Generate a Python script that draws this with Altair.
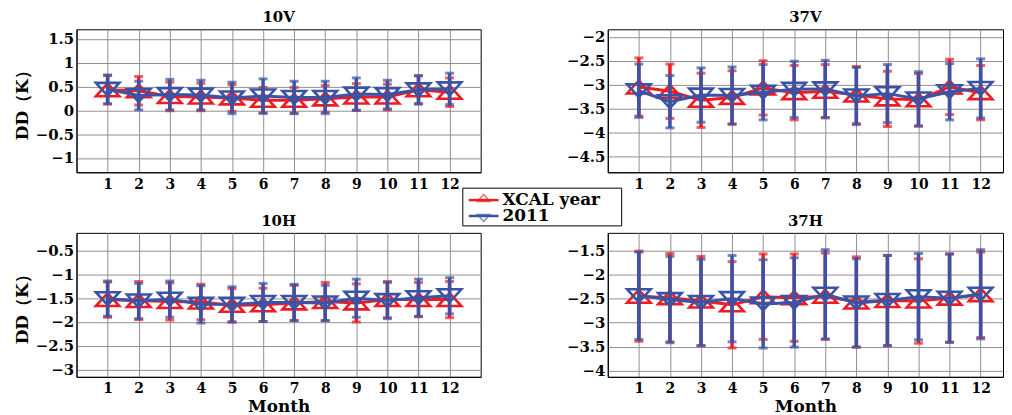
import altair as alt
import pandas as pd

months = list(range(1, 13))

v10_xcal_mean = [0.43, 0.41, 0.29, 0.28, 0.26, 0.21, 0.21, 0.24, 0.28, 0.28, 0.43, 0.38]
v10_xcal_std = [0.30, 0.30, 0.30, 0.29, 0.28, 0.27, 0.27, 0.28, 0.28, 0.27, 0.29, 0.30]
v10_2011_mean = [0.44, 0.31, 0.33, 0.32, 0.26, 0.30, 0.27, 0.27, 0.34, 0.33, 0.43, 0.45]
v10_2011_std = [0.30, 0.30, 0.32, 0.31, 0.33, 0.36, 0.34, 0.34, 0.34, 0.30, 0.30, 0.33]

v37_xcal_mean = [-3.05, -3.14, -3.33, -3.27, -3.07, -3.17, -3.14, -3.22, -3.30, -3.32, -3.05, -3.17]
v37_xcal_std = [0.61, 0.57, 0.57, 0.56, 0.57, 0.57, 0.56, 0.60, 0.58, 0.55, 0.58, 0.57]
v37_2011_mean = [-3.13, -3.36, -3.22, -3.23, -3.16, -3.10, -3.09, -3.24, -3.19, -3.30, -3.15, -3.08]
v37_2011_std = [0.56, 0.55, 0.57, 0.60, 0.58, 0.59, 0.60, 0.60, 0.61, 0.57, 0.59, 0.62]

h10_xcal_mean = [-1.53, -1.55, -1.57, -1.58, -1.65, -1.64, -1.60, -1.57, -1.60, -1.53, -1.53, -1.53]
h10_xcal_std = [0.37, 0.40, 0.39, 0.37, 0.35, 0.35, 0.37, 0.40, 0.40, 0.38, 0.36, 0.38]
h10_2011_mean = [-1.51, -1.56, -1.52, -1.63, -1.63, -1.59, -1.59, -1.60, -1.50, -1.55, -1.49, -1.45]
h10_2011_std = [0.37, 0.37, 0.38, 0.39, 0.37, 0.40, 0.38, 0.37, 0.40, 0.38, 0.39, 0.38]

h37_xcal_mean = [-2.45, -2.48, -2.55, -2.63, -2.46, -2.48, -2.45, -2.57, -2.54, -2.55, -2.49, -2.42]
h37_xcal_std = [0.94, 0.92, 0.93, 0.90, 0.89, 0.91, 0.90, 0.94, 0.94, 0.88, 0.92, 0.89]
h37_2011_mean = [-2.44, -2.52, -2.58, -2.50, -2.61, -2.58, -2.41, -2.59, -2.54, -2.46, -2.49, -2.41]
h37_2011_std = [0.91, 0.90, 0.90, 0.90, 0.92, 0.93, 0.93, 0.92, 0.94, 0.90, 0.92, 0.93]

series_names = ["XCAL year", "2011"]
panel_titles = ["10V", "37V", "10H", "37H"]

RED = "#ED1C24"
BLUE = "#3A53A4"
FONT = "DejaVu Serif"
UP = "M0,-0.55L1,0.55L-1,0.55Z"
DOWN = "M0,0.55L1,-0.55L-1,-0.55Z"


def series_df(mean, std):
    return pd.DataFrame({
        "month": months,
        "mean": mean,
        "lo": [m - s for m, s in zip(mean, std)],
        "hi": [m + s for m, s in zip(mean, std)],
    })


def series_layers(df, color, shape, X, Y):
    base = alt.Chart(df)
    rule = base.mark_rule(color=color, strokeWidth=3.5).encode(
        x=X("month:Q"), y=Y("lo:Q"), y2="hi:Q")
    cap_hi = base.mark_tick(color=color, orient="horizontal", size=9, thickness=3).encode(
        x=X("month:Q"), y=Y("hi:Q"))
    cap_lo = base.mark_tick(color=color, orient="horizontal", size=9, thickness=3).encode(
        x=X("month:Q"), y=Y("lo:Q"))
    line = base.mark_line(color=color, strokeWidth=3).encode(
        x=X("month:Q"), y=Y("mean:Q"))
    pts = base.mark_point(shape=shape, color=color, filled=False, strokeWidth=2.6,
                          size=560, opacity=1).encode(
        x=X("month:Q"), y=Y("mean:Q"))
    return [rule, cap_hi, cap_lo, line, pts]


def panel(title, xcal, y2011, ydomain, yvals, xdomain, width, height,
          ytitle=None, xtitle=None, legend=False):
    xs = alt.Scale(domain=xdomain, nice=False, zero=False)
    ys = alt.Scale(domain=ydomain, nice=False, zero=False)
    xaxis = alt.Axis(values=months, format="d", labelAngle=0, grid=True, ticks=False,
                     labelPadding=5, titlePadding=3, labelOverlap=False, labelFlush=False,
                     title=xtitle if xtitle else None)
    yaxis = alt.Axis(values=yvals, format=".1~f", grid=True, ticks=False, labelPadding=3,
                     titlePadding=4, labelOverlap=False, labelFlush=False,
                     title=ytitle if ytitle else None)

    def X(f):
        return alt.X(f, scale=xs, axis=xaxis)

    def Y(f):
        return alt.Y(f, scale=ys, axis=yaxis)

    layers = series_layers(series_df(*xcal), RED, UP, X, Y) + \
        series_layers(series_df(*y2011), BLUE, DOWN, X, Y)
    if legend:
        # legend box drawn relative to this panel's plot area (between the panels)
        one = alt.Chart(pd.DataFrame({"k": [0]}))
        bx, by = 389, 160
        box = one.mark_rect(fill="white", stroke="black", strokeWidth=1).encode(
            x=alt.value(bx), x2=alt.value(bx + 160), y=alt.value(by), y2=alt.value(by + 38))
        l1 = one.mark_rule(color=RED, strokeWidth=2.5).encode(
            x=alt.value(bx + 6), x2=alt.value(bx + 36), y=alt.value(by + 12))
        p1 = one.mark_point(shape=UP, color=RED, filled=False, strokeWidth=1.3, size=170).encode(
            x=alt.value(bx + 21), y=alt.value(by + 10))
        t1 = one.mark_text(align="left", baseline="middle", font=FONT, fontWeight="bold",
                           fontSize=17, color="black").encode(
            x=alt.value(bx + 40), y=alt.value(by + 12), text=alt.value(series_names[0]))
        l2 = one.mark_rule(color=BLUE, strokeWidth=2.5).encode(
            x=alt.value(bx + 6), x2=alt.value(bx + 36), y=alt.value(by + 28))
        p2 = one.mark_point(shape=DOWN, color=BLUE, filled=False, strokeWidth=1.3, size=170).encode(
            x=alt.value(bx + 21), y=alt.value(by + 30))
        t2 = one.mark_text(align="left", baseline="middle", font=FONT, fontWeight="bold",
                           fontSize=17, color="black").encode(
            x=alt.value(bx + 40), y=alt.value(by + 28), text=alt.value(series_names[1]))
        layers += [box, l1, p1, t1, l2, p2, t2]
    return alt.layer(*layers).properties(
        width=width, height=height,
        title=alt.Title(title, font=FONT, fontSize=15, fontWeight="bold", offset=4),
    )


WL, WR = 407, 398
XL, XR = [0, 13], [0, 12.72]

p1 = panel(panel_titles[0], (v10_xcal_mean, v10_xcal_std), (v10_2011_mean, v10_2011_std),
           [-1.3, 1.7], [-1, -0.5, 0, 0.5, 1, 1.5], XL, WL, 144, ytitle="DD（K）", legend=True)
p2 = panel(panel_titles[1], (v37_xcal_mean, v37_xcal_std), (v37_2011_mean, v37_2011_std),
           [-4.84, -1.84], [-4.5, -4, -3.5, -3, -2.5, -2], XR, WR, 144)
p3 = panel(panel_titles[2], (h10_xcal_mean, h10_xcal_std), (h10_2011_mean, h10_2011_std),
           [-3.15, -0.13], [-3, -2.5, -2, -1.5, -1, -0.5], XL, WL, 145,
           ytitle="DD（K）", xtitle="Month")
p4 = panel(panel_titles[3], (h37_xcal_mean, h37_xcal_std), (h37_2011_mean, h37_2011_std),
           [-4.13, -1.13], [-4, -3.5, -3, -2.5, -2, -1.5], XR, WR, 145,
           xtitle="Month")

chart = alt.concat(
    p1, p2, p3, p4, columns=2, spacing={"row": 61, "column": 128}, bounds="flush"
).properties(
    padding={"left": 4, "top": 0, "right": 0, "bottom": 0}
).configure_view(
    stroke="black", strokeWidth=1
).configure_axis(
    labelFont=FONT, labelFontWeight="bold", labelFontSize=15, labelColor="black",
    titleFont=FONT, titleFontWeight="bold", titleFontSize=17, titleColor="black",
    domainColor="black", domainWidth=1, gridColor="#8f8f8f", gridWidth=1, gridOpacity=1,
    labelOverlap=False,
).configure_axisX(
    labelFontSize=14
).configure_title(
    color="black"
)

chart.save("out.html", embed_options={"renderer": "svg", "actions": False})
